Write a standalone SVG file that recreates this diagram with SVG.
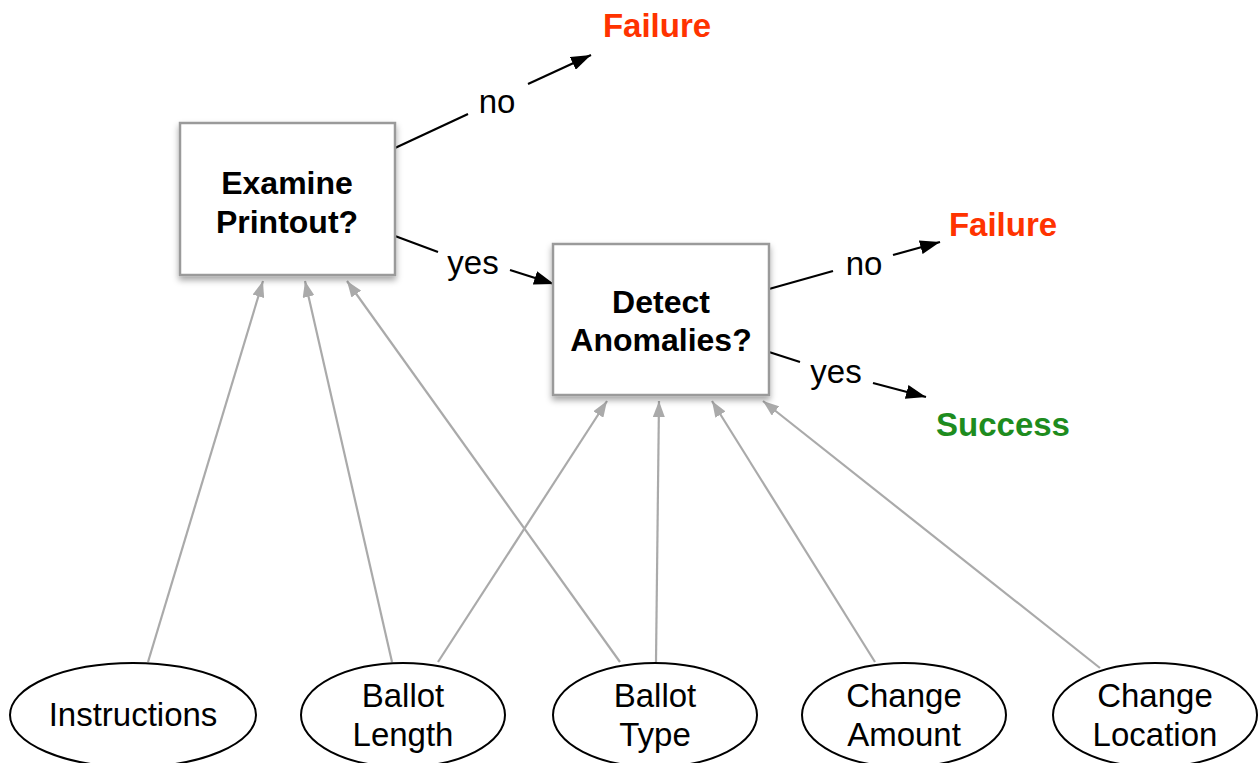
<svg xmlns="http://www.w3.org/2000/svg" width="1259" height="763" viewBox="0 0 1259 763">
<style>
text{font-family:"Liberation Sans",Arial,sans-serif;text-anchor:middle}
.box{fill:#fff;stroke:#9a9a9a;stroke-width:2.5}
.bt{font-size:32px;font-weight:bold;fill:#000}
.ell{fill:#fff;stroke:#000;stroke-width:2}
.et{font-size:33px;fill:#000}
.lbl{font-size:33px;fill:#000}
.blk{stroke:#000;stroke-width:2.2;fill:none}
.gry{stroke:#aaa;stroke-width:2.2;fill:none}
.red{font-size:33px;font-weight:bold;fill:#ff3300}
.grn{font-size:33px;font-weight:bold;fill:#1e8c1e}
</style>
<defs>
<marker id="ab" viewBox="0 0 20 14" refX="20" refY="7" markerWidth="20" markerHeight="14" markerUnits="userSpaceOnUse" orient="auto"><path d="M0,0 L20,7 L0,14 z" fill="#000"/></marker>
<marker id="ag" viewBox="0 0 16 12" refX="16" refY="6" markerWidth="16" markerHeight="12" markerUnits="userSpaceOnUse" orient="auto"><path d="M0,0 L16,6 L0,12 z" fill="#aaa"/></marker>
<filter id="sh" x="-10%" y="-10%" width="120%" height="130%"><feDropShadow dx="0" dy="4" stdDeviation="3" flood-color="#000" flood-opacity="0.35"/></filter>
</defs>
<g id="connectors">
<line class="gry" x1="148" y1="662" x2="263" y2="281" marker-end="url(#ag)"/>
<line class="gry" x1="392" y1="662" x2="305" y2="281" marker-end="url(#ag)"/>
<line class="gry" x1="620" y1="662" x2="347" y2="281" marker-end="url(#ag)"/>
<line class="gry" x1="438" y1="662" x2="607" y2="401" marker-end="url(#ag)"/>
<line class="gry" x1="656" y1="662" x2="659" y2="401" marker-end="url(#ag)"/>
<line class="gry" x1="875" y1="662" x2="712" y2="401" marker-end="url(#ag)"/>
<line class="gry" x1="1100" y1="668" x2="763" y2="401" marker-end="url(#ag)"/>
<line class="blk" x1="395" y1="148" x2="468" y2="114"/>
<line class="blk" x1="528" y1="84" x2="591" y2="55" marker-end="url(#ab)"/>
<text class="lbl" x="497" y="113">no</text>
<line class="blk" x1="395" y1="236" x2="438" y2="252"/>
<line class="blk" x1="510" y1="270" x2="554" y2="284" marker-end="url(#ab)"/>
<text class="lbl" x="473" y="274">yes</text>
<line class="blk" x1="769" y1="289" x2="833" y2="271"/>
<line class="blk" x1="893" y1="255" x2="940" y2="242" marker-end="url(#ab)"/>
<text class="lbl" x="864" y="275">no</text>
<line class="blk" x1="769" y1="352" x2="800" y2="362"/>
<line class="blk" x1="873" y1="383" x2="926" y2="397" marker-end="url(#ab)"/>
<text class="lbl" x="836" y="383">yes</text>
</g>
<g id="examine">
<rect class="box" x="180" y="123" width="215" height="152" filter="url(#sh)"/>
<text class="bt" x="287" y="194">Examine</text>
<text class="bt" x="287" y="233">Printout?</text>
</g>
<g id="detect">
<rect class="box" x="553" y="244" width="216" height="151" filter="url(#sh)"/>
<text class="bt" x="661" y="313">Detect</text>
<text class="bt" x="661" y="351">Anomalies?</text>
</g>
<g id="failure1"><text class="red" x="657" y="37">Failure</text></g>
<g id="failure2"><text class="red" x="1003" y="236">Failure</text></g>
<g id="success"><text class="grn" x="1003" y="436">Success</text></g>
<g id="instructions">
<ellipse class="ell" cx="133" cy="715" rx="123" ry="52"/>
<text class="et" x="133" y="726">Instructions</text>
</g>
<g id="ballotlength">
<ellipse class="ell" cx="403" cy="715" rx="102" ry="52"/>
<text class="et" x="403" y="707">Ballot</text>
<text class="et" x="403" y="746">Length</text>
</g>
<g id="ballottype">
<ellipse class="ell" cx="655" cy="715" rx="102" ry="52"/>
<text class="et" x="655" y="707">Ballot</text>
<text class="et" x="655" y="746">Type</text>
</g>
<g id="changeamount">
<ellipse class="ell" cx="904" cy="715" rx="102" ry="52"/>
<text class="et" x="904" y="707">Change</text>
<text class="et" x="904" y="746">Amount</text>
</g>
<g id="changelocation">
<ellipse class="ell" cx="1155" cy="715" rx="102" ry="52"/>
<text class="et" x="1155" y="707">Change</text>
<text class="et" x="1155" y="746">Location</text>
</g>
</svg>
